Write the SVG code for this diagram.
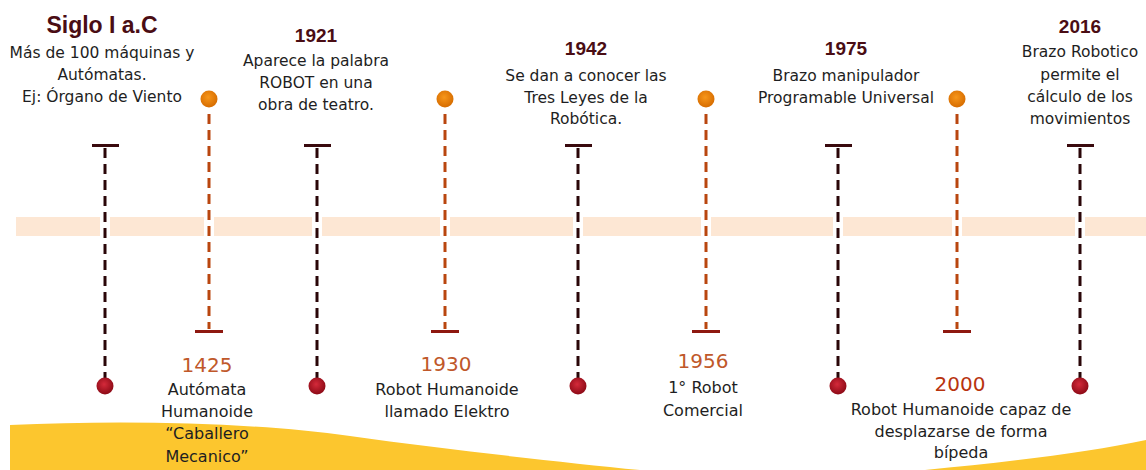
<svg xmlns="http://www.w3.org/2000/svg" width="1146" height="470" viewBox="0 0 1146 470">
<defs>
<radialGradient id="gRed" cx="45%" cy="40%" r="60%">
<stop offset="0" stop-color="#d42a3a"/><stop offset="1" stop-color="#8c0a16"/>
</radialGradient>
<radialGradient id="gOr" cx="45%" cy="40%" r="60%">
<stop offset="0" stop-color="#f7961a"/><stop offset="1" stop-color="#d66c00"/>
</radialGradient>
<style>
.dk{stroke:#2a0608;stroke-width:3;stroke-dasharray:10 6;fill:none}
.or{stroke:#b9460f;stroke-width:3;stroke-dasharray:10 6;fill:none}
.bdk{fill:#3a0a0e}
.bor{fill:#8e1810}
.gap{fill:#ffffff}
.t{font-family:"DejaVu Sans",sans-serif;font-size:15.5px;fill:#1e1e22;text-anchor:middle}
.b{font-family:"DejaVu Sans",sans-serif;font-size:16px;fill:#1e1e22;text-anchor:middle}
.yr{font-family:"Liberation Sans",Arial,sans-serif;font-weight:bold;font-size:19px;fill:#4a0d14;text-anchor:middle}
.big{font-size:23px}
.ly{font-family:"DejaVu Sans",sans-serif;font-size:20px;fill:#c0582a;text-anchor:middle}
.ly2{fill:#b8340f}
</style>
</defs>
<rect width="1146" height="470" fill="#ffffff"/>
<g id="decor">
<path d="M10,425 C120,420 250,422 350,436 C450,450 560,462 640,470 L10,470 Z" fill="#fcc62e"/>
<path d="M925,470 C1010,462 1090,452 1146,440 L1146,470 Z" fill="#fcc62e"/>
<rect id="band" x="16" y="217" width="1130" height="19" fill="#fde7d4"/>
<rect class="gap" x="100" y="215" width="10" height="23"/>
<rect class="gap" x="204" y="215" width="10" height="23"/>
<rect class="gap" x="312" y="215" width="10" height="23"/>
<rect class="gap" x="440" y="215" width="10" height="23"/>
<rect class="gap" x="573" y="215" width="10" height="23"/>
<rect class="gap" x="701" y="215" width="10" height="23"/>
<rect class="gap" x="833" y="215" width="10" height="23"/>
<rect class="gap" x="952" y="215" width="10" height="23"/>
<rect class="gap" x="1075" y="215" width="10" height="23"/>
</g>
<g id="connectors">
<line class="dk" x1="105" y1="148" x2="105" y2="378"/>
<line class="or" x1="209" y1="114" x2="209" y2="329"/>
<line class="dk" x1="317" y1="148" x2="317" y2="378"/>
<line class="or" x1="445" y1="114" x2="445" y2="329"/>
<line class="dk" x1="578" y1="148" x2="578" y2="378"/>
<line class="or" x1="706" y1="114" x2="706" y2="329"/>
<line class="dk" x1="838" y1="148" x2="838" y2="378"/>
<line class="or" x1="957" y1="114" x2="957" y2="329"/>
<line class="dk" x1="1080" y1="148" x2="1080" y2="378"/>
</g>
<g id="n-siglo">
<rect class="bdk" x="92" y="144" width="27" height="3"/>
<circle cx="105" cy="386" r="8.5" fill="url(#gRed)"/>
<text x="102" y="33" class="yr big">Siglo I a.C</text>
<text class="t" x="102" y="58">Más de 100 máquinas y</text>
<text class="t" x="102" y="80">Autómatas.</text>
<text class="t" x="102" y="102">Ej: Órgano de Viento</text>
</g>
<g id="n-1425">
<circle cx="209" cy="99" r="8.5" fill="url(#gOr)"/>
<rect class="bor" x="195" y="330" width="28" height="3"/>
<text class="ly" x="207" y="372">1425</text>
<text class="b" x="207" y="395">Autómata</text>
<text class="b" x="207" y="417">Humanoide</text>
<text class="b" x="207" y="439">“Caballero</text>
<text class="b" x="207" y="462">Mecanico”</text>
</g>
<g id="n-1921">
<rect class="bdk" x="304" y="144" width="27" height="3"/>
<circle cx="317" cy="386" r="8.5" fill="url(#gRed)"/>
<text class="yr" x="316" y="42">1921</text>
<text class="t" x="316" y="66">Aparece la palabra</text>
<text class="t" x="316" y="88">ROBOT en una</text>
<text class="t" x="316" y="110">obra de teatro.</text>
</g>
<g id="n-1930">
<circle cx="445" cy="99" r="8.5" fill="url(#gOr)"/>
<rect class="bor" x="431" y="330" width="28" height="3"/>
<text class="ly" x="446" y="371">1930</text>
<text class="b" x="447" y="395">Robot Humanoide</text>
<text class="b" x="447" y="417">llamado Elektro</text>
</g>
<g id="n-1942">
<rect class="bdk" x="565" y="144" width="27" height="3"/>
<circle cx="578" cy="386" r="8.5" fill="url(#gRed)"/>
<text class="yr" x="586" y="55">1942</text>
<text class="t" x="586" y="81">Se dan a conocer las</text>
<text class="t" x="586" y="103">Tres Leyes de la</text>
<text class="t" x="586" y="124">Robótica.</text>
</g>
<g id="n-1956">
<circle cx="706" cy="99" r="8.5" fill="url(#gOr)"/>
<rect class="bor" x="692" y="330" width="28" height="3"/>
<text class="ly" x="703" y="368">1956</text>
<text class="b" x="703" y="393">1° Robot</text>
<text class="b" x="703" y="416">Comercial</text>
</g>
<g id="n-1975">
<rect class="bdk" x="825" y="144" width="27" height="3"/>
<circle cx="838" cy="386" r="8.5" fill="url(#gRed)"/>
<text class="yr" x="846" y="55">1975</text>
<text class="t" x="846" y="81">Brazo manipulador</text>
<text class="t" x="846" y="103">Programable Universal</text>
</g>
<g id="n-2000">
<circle cx="957" cy="99" r="8.5" fill="url(#gOr)"/>
<rect class="bor" x="943" y="330" width="28" height="3"/>
<text class="ly ly2" x="960" y="391">2000</text>
<text class="b" x="961" y="415">Robot Humanoide capaz de</text>
<text class="b" x="961" y="437">desplazarse de forma</text>
<text class="b" x="961" y="458">bípeda</text>
</g>
<g id="n-2016">
<rect class="bdk" x="1067" y="144" width="27" height="3"/>
<circle cx="1080" cy="386" r="8.5" fill="url(#gRed)"/>
<text class="yr" x="1080" y="33">2016</text>
<text class="t" x="1080" y="57">Brazo Robotico</text>
<text class="t" x="1080" y="80">permite el</text>
<text class="t" x="1080" y="102">cálculo de los</text>
<text class="t" x="1080" y="124">movimientos</text>
</g>
</svg>
